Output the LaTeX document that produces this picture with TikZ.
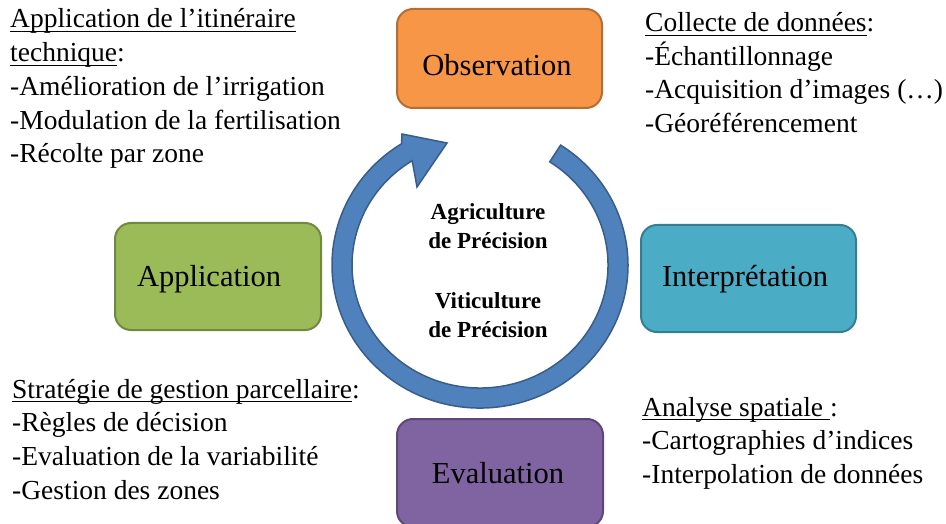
\documentclass[tikz,border=0pt]{standalone}
\usepackage{fontspec}
\setmainfont{Liberation Serif}
\newcommand\myul[1]{\setbox0\hbox{#1}\rlap{\rule[-4.2pt]{\wd0}{1.1pt}}\box0}
\definecolor{obsfill}{HTML}{F79646}\definecolor{obsdraw}{HTML}{B66D31}
\definecolor{appfill}{HTML}{9BBB59}\definecolor{appdraw}{HTML}{71893F}
\definecolor{intfill}{HTML}{4BACC6}\definecolor{intdraw}{HTML}{357D91}
\definecolor{evafill}{HTML}{8064A2}\definecolor{evadraw}{HTML}{5C4776}
\definecolor{arrfill}{HTML}{4F81BD}\definecolor{arrdraw}{HTML}{385D8A}
\tikzset{
  box/.style={rounded corners=16pt, line width=2pt, inner sep=0pt},
  boxtext/.style={anchor=base, inner sep=0pt, font=\fontsize{30.5}{34}\selectfont},
  blocktext/.style={anchor=base west, inner sep=0pt, font=\fontsize{27.5}{33.7}\selectfont},
  ctext/.style={align=center, inner sep=0pt, font=\bfseries\fontsize{23}{28.5}\selectfont},
}
\begin{document}
\begin{tikzpicture}[x=1pt,y=1pt]
\useasboundingbox (0,0) rectangle (946,-524);
% circular arrow
\coordinate (C) at (480,-265);
\filldraw[fill=arrfill, draw=arrdraw, line width=1.5pt, line join=miter]
  (560.6,-145.1) arc[start angle=57, end angle=-238, x radius=148, y radius=143]
  -- (402,-134) -- (447,-143) -- (417,-187) -- (412.2,-160.7)
  arc[start angle=-238, end angle=57, x radius=128, y radius=123] -- cycle;
% boxes
\node[box, fill=obsfill, draw=obsdraw, minimum width=205pt, minimum height=99pt] (obs) at (499.5,-58.5) {};
\node[box, fill=intfill, draw=intdraw, minimum width=215pt, minimum height=107pt] (int) at (748.5,-278.5) {};
\node[box, fill=appfill, draw=appdraw, minimum width=206pt, minimum height=107pt] (app) at (218,-276.5) {};
\node[box, fill=evafill, draw=evadraw, minimum width=206pt, minimum height=108pt] (eva) at (500,-473) {};
\node[boxtext] (obst) at (497,-76) {Observation};
\node[boxtext] (intt) at (745,-287) {Interprétation};
\node[boxtext] (appt) at (209,-287) {Application};
\node[boxtext] (evat) at (498,-483) {Evaluation};
% centre text
\node[ctext] (agri) at (488,-226) {Agriculture\\de Précision};
\node[ctext] (viti) at (488,-315) {Viticulture\\de Précision};
% text blocks
\node[blocktext] (tl) at (10,-28) {\begin{tabular}[t]{@{}l@{}}
\myul{Application de l’itinéraire}\\
\myul{technique}:\\
-Amélioration de l’irrigation\\
-Modulation de la fertilisation\\
-Récolte par zone
\end{tabular}};
\node[blocktext] (tr) at (645,-31.5) {\begin{tabular}[t]{@{}l@{}}
\myul{Collecte de données}:\\
-Échantillonnage\\
-Acquisition d’images (…)\\
-Géoréférencement
\end{tabular}};
\node[blocktext] (bl) at (12,-398) {\begin{tabular}[t]{@{}l@{}}
\myul{Stratégie de gestion parcellaire}:\\
-Règles de décision\\
-Evaluation de la variabilité\\
-Gestion des zones
\end{tabular}};
\node[blocktext] (br) at (642,-416) {\begin{tabular}[t]{@{}l@{}}
\myul{Analyse spatiale\ }:\\
-Cartographies d’indices\\
-Interpolation de données
\end{tabular}};
\end{tikzpicture}
\end{document}
